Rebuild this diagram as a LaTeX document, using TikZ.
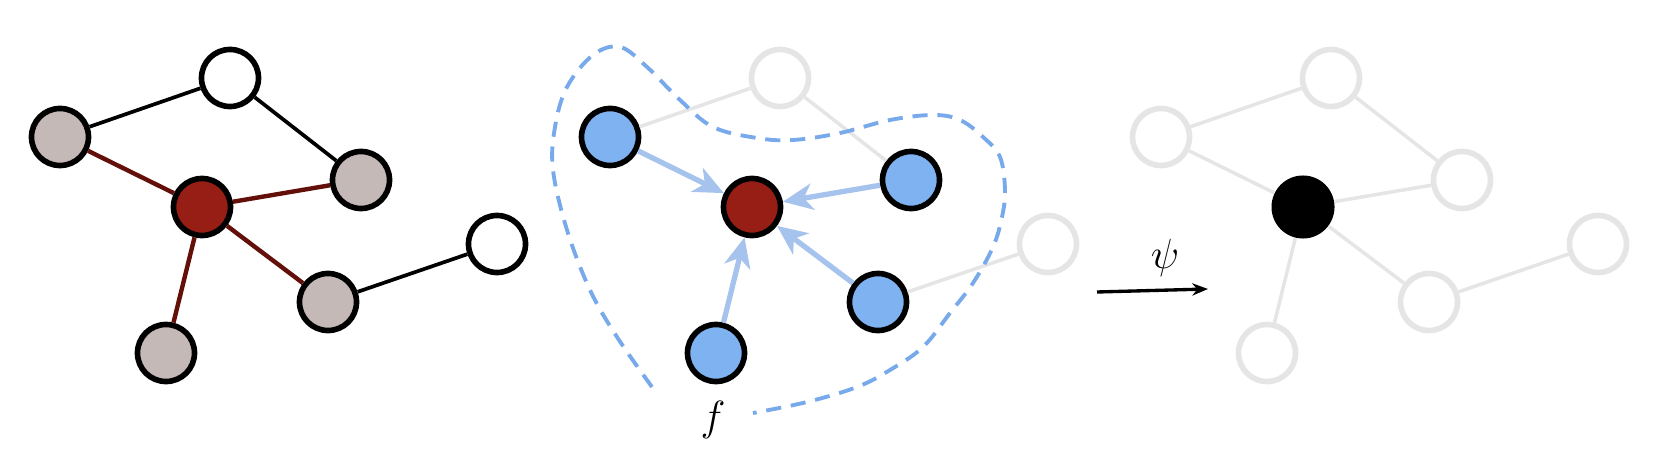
\documentclass[tikz,border=0pt]{standalone}
\usepackage{amsmath, amssymb}
\usepackage{tikz}
\usetikzlibrary{arrows.meta, shapes.geometric, positioning}
\definecolor{VertexRed}{RGB}{150,30,20}
\definecolor{EdgeRed}{RGB}{100,16,10}
\definecolor{VertexGray}{RGB}{197,185,183}
\definecolor{VertexBlue}{RGB}{126,178,240}
\definecolor{ArrowBlue}{RGB}{165,195,236}
\definecolor{DashBlue}{RGB}{120,170,235}
\definecolor{FadedGray}{RGB}{229,229,229}
\tikzstyle{vertex} = [circle, draw=black, line width=1.6pt, minimum size=0.57cm, inner sep=0pt, fill=white]
\tikzstyle{faded} = [vertex, draw=FadedGray]
\tikzstyle{plainedge} = [line width=1.05pt, black]
\tikzstyle{rededge} = [line width=1.25pt, EdgeRed]
\tikzstyle{fadededge} = [line width=1pt, FadedGray]
\tikzstyle{message} = [line width=1.5pt, ArrowBlue, -{Stealth[length=8.5pt, width=7.5pt, inset=2.5pt]}]
\tikzstyle{arrow} = [line width=0.95pt, black, -{Stealth[length=4.5pt, width=3.5pt]}]
\tikzstyle{bigmath} = [font=\fontsize{13}{15}\selectfont, inner sep=0pt]

\begin{document}
\begin{tikzpicture}[x=0.01cm, y=-0.01cm]
                \useasboundingbox (0,0) rectangle (1676,458);

                % input graph
                \node[vertex] (la) at (230,78) {};
                \node[vertex, fill=VertexGray] (lb) at (60,137) {};
                \node[vertex, fill=VertexRed] (lc) at (202,207) {};
                \node[vertex, fill=VertexGray] (ld) at (361,180) {};
                \node[vertex, fill=VertexGray] (le) at (328,302) {};
                \node[vertex] (lf) at (497,244) {};
                \node[vertex, fill=VertexGray] (lg) at (166,353) {};
                \foreach \u/\v in {lb/la, la/ld, le/lf} {
                    \draw[plainedge] (\u) -- (\v);
                }
                \foreach \v in {lb,ld,le,lg} {
                    \draw[rededge] (lc) -- (\v);
                }

                % aggregation
                \node[faded] (ma) at (780,78) {};
                \node[vertex, fill=VertexBlue] (mb) at (610,137) {};
                \node[vertex, fill=VertexRed] (mc) at (752,207) {};
                \node[vertex, fill=VertexBlue] (md) at (911,180) {};
                \node[vertex, fill=VertexBlue] (me) at (878,302) {};
                \node[faded] (mf) at (1048,244) {};
                \node[vertex, fill=VertexBlue] (mg) at (716,353) {};
                \foreach \u/\v in {mb/ma, ma/md, me/mf} {
                    \draw[fadededge] (\u) -- (\v);
                }
                \foreach \v in {mb,md,me,mg} {
                    \draw[message] (\v) -- (mc);
                }
                \draw[DashBlue, line width=1.1pt, dash pattern=on 4.3pt off 2.8pt]
                    plot[smooth, tension=0.6] coordinates {(652,387) (617,337) (590,290) (567,230) (553,170) (555,127) (567,87) (593,55) (620,47) (647,67) (680,100) (713,127) (757,138) (793,140) (840,133) (890,120) (933,115) (960,120) (983,137) (1000,157) (1005,190) (1002,217) (993,247) (973,283) (950,313) (923,347) (890,370) (857,387) (807,402) (753,413)};
                \node[bigmath] (flabel) at (713,420) {$f$};

                % update
                \coordinate (psistart) at (1097,292);
                \coordinate (psiend) at (1208,289);
                \draw[arrow] (psistart) -- (psiend);
                \node[bigmath] (psi) at (1165,258) {$\psi$};

                % output graph
                \node[faded] (ra) at (1331,78) {};
                \node[faded] (rb) at (1161,137) {};
                \node[circle, fill=black, minimum size=0.63cm, inner sep=0pt] (rc) at (1303,207) {};
                \node[faded] (rd) at (1462,180) {};
                \node[faded] (re) at (1429,302) {};
                \node[faded] (rf) at (1598,244) {};
                \node[faded] (rg) at (1267,353) {};
                \foreach \u/\v in {rb/ra, ra/rd, re/rf, rc/rb, rc/rd, rc/re, rc/rg} {
                    \draw[fadededge] (\u) -- (\v);
                }
            \end{tikzpicture}
\end{document}
